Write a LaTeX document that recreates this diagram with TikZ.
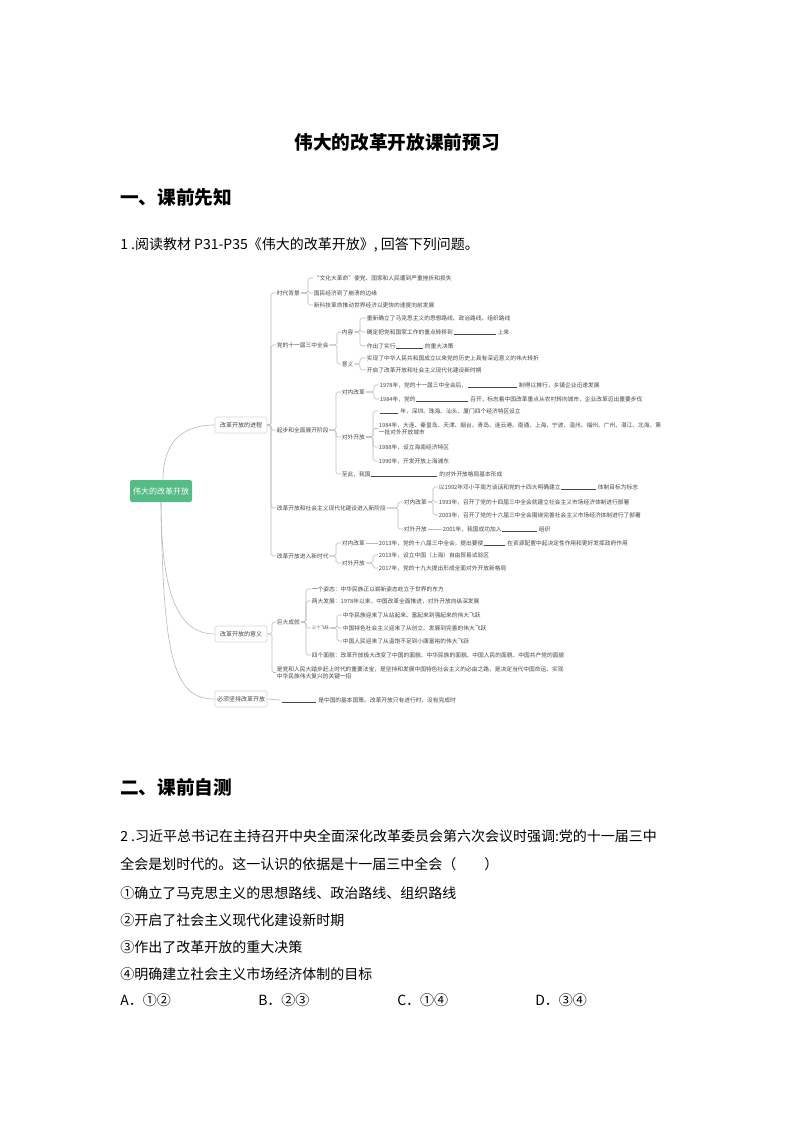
\documentclass[tikz,border=0pt]{standalone}
\usepackage{fontspec}
\setmainfont{Noto Sans CJK SC}
\definecolor{mmtext}{RGB}{70,70,70}
\definecolor{mmline}{RGB}{185,185,185}
\definecolor{mmgreen}{RGB}{84,188,132}
\definecolor{boxline}{RGB}{215,215,215}
\newcommand\blank[1]{\hspace{0.12em}\rule[-0.6pt]{#1}{0.3pt}\hspace{0.35em}}
\newcommand\mmfont{\fontsize{4.3pt}{5.25pt}\selectfont}
\begin{document}
\begin{tikzpicture}[x=0.75pt,y=-0.75pt,
 t/.style={anchor=west, inner xsep=0.5pt, inner ysep=0.6pt, font=\mmfont, text=mmtext},
 tl/.style={t, align=left},
 ln/.style={draw=mmline, line width=0.45pt, rounded corners=1.3pt},
 lvl/.style={draw=boxline, fill=white, rounded corners=1.5pt, line width=0.5pt, minimum width=39pt, minimum height=12pt, inner sep=1pt, font=\fontsize{4.5pt}{5pt}\selectfont, text=mmtext},
 rootbox/.style={fill=mmgreen, rounded corners=1.2pt, minimum width=46.5pt, minimum height=16.5pt, inner sep=1pt, text=white, font=\fontsize{6pt}{7pt}\selectfont},
 body/.style={anchor=west, inner sep=0pt, font=\fontsize{10.5pt}{12pt}\selectfont, text=black},
 head/.style={anchor=west, inner sep=0pt, font=\fontsize{14pt}{16pt}\selectfont\bfseries, text=black},
]
\useasboundingbox (0,0) rectangle (794,1123);
\fill[white] (0,0) rectangle (794,1123);

% ---------- header ----------
\node[inner sep=0pt, font=\fontsize{14pt}{16pt}\selectfont\bfseries] (title) at (397,142) {伟大的改革开放课前预习};
\node[head] (h1) at (120,197) {一、课前先知};
\node[body] (q1) at (120,245) {1 .阅读教材 P31-P35《伟大的改革开放》, 回答下列问题。};

% ---------- mind map ----------
\node[rootbox] (root) at (161,491) {伟大的改革开放};
\node[lvl] (p1) at (241,425) {改革开放的进程};
\node[lvl] (p2) at (241,634) {改革开放的意义};
\node[lvl] (p3) at (241,699) {必须坚持改革开放};

\draw[ln] ([xshift=1.5pt]root.north) .. controls +(0,-38) and +(-32,0) .. (p1.west);
\draw[ln] ([xshift=0pt]root.south) .. controls +(0,95) and +(-35,0) .. (p2.west);
\draw[ln] ([xshift=0pt]root.south) .. controls +(2,160) and +(-40,0) .. (p3.west);

% bracket x positions
\coordinate (b0) at (271,0);
\coordinate (b1) at (308,0);
\coordinate (b2) at (337,0);
\coordinate (b21) at (360,0);
\coordinate (b3) at (336,0);
\coordinate (b31) at (374,0);
\coordinate (b32) at (373,0);
\coordinate (b4) at (398,0);
\coordinate (b41) at (433,0);
\coordinate (b5) at (336,0);
\coordinate (b52) at (373,0);
\coordinate (c0) at (272,0);
\coordinate (c1) at (306,0);
\coordinate (c13) at (337,0);

% level 2 of 进程
\node[t] (n1) at (276,293) {时代背景};
\node[t] (n2) at (276,345) {党的十一届三中全会};
\node[t] (n3) at (276,430) {起步和全面展开阶段};
\node[t] (n4) at (276,508) {改革开放和社会主义现代化建设进入新阶段};
\node[t] (n5) at (276,556) {改革开放进入新时代};
\foreach \c in {n1,n2,n3,n4,n5} \draw[ln] (p1.east) -- (p1.east -| b0) |- (\c.west);

% 时代背景
\node[t] (n11) at (313,278) {“文化大革命”使党、国家和人民遭到严重挫折和损失};
\node[t] (n12) at (313,293) {国民经济到了崩溃的边缘};
\node[t] (n13) at (313,305) {新科技革命推动世界经济以更快的速度向前发展};
\foreach \c in {n11,n12,n13} \draw[ln] (n1.east) -- (n1.east -| b1) |- (\c.west);

% 党的十一届三中全会
\node[t] (n21) at (341,332) {内容};
\node[t] (n22) at (341,364) {意义};
\foreach \c in {n21,n22} \draw[ln] (n2.east) -- (n2.east -| b2) |- (\c.west);
\node[t] (n211) at (366,318) {重新确立了马克思主义的思想路线、政治路线、组织路线};
\node[t] (n212) at (366,332) {确定把党和国家工作的重点转移到\blank{31.5pt}上来};
\node[t] (n213) at (366,346) {作出了实行\blank{20pt}的重大决策};
\foreach \c in {n211,n212,n213} \draw[ln] (n21.east) -- (n21.east -| b21) |- (\c.west);
\node[t] (n221) at (366,358) {实现了中华人民共和国成立以来党的历史上具有深远意义的伟大转折};
\node[t] (n222) at (366,370) {开启了改革开放和社会主义现代化建设新时期};
\foreach \c in {n221,n222} \draw[ln] (n22.east) -- (n22.east -| b21) |- (\c.west);

% 起步和全面展开阶段
\node[t] (n31) at (341,392) {对内改革};
\node[t] (n32) at (341,437) {对外开放};
\node[t] (n33) at (341,474) {至此，我国\blank{49.5pt}的对外开放格局基本形成};
\foreach \c in {n31,n32,n33} \draw[ln] (n3.east) -- (n3.east -| b3) |- (\c.west);
\node[t] (n311) at (379,385) {1978年，党的十一届三中全会后，\blank{37pt}制得以推行，乡镇企业迅速发展};
\node[t] (n312) at (379,399) {1984年，党的\blank{39pt}召开，标志着中国改革重点从农村转向城市，企业改革迈出重要步伐};
\foreach \c in {n311,n312} \draw[ln] (n31.east) -- (n31.east -| b31) |- (\c.west);
\node[t] (n321) at (378,411) {\blank{14pt}年，深圳、珠海、汕头、厦门四个经济特区设立};
\node[tl] (n322) at (378,428.5) {1984年，大连、秦皇岛、天津、烟台、青岛、连云港、南通、上海、宁波、温州、福州、广州、湛江、北海，第\\一批对外开放城市};
\node[t] (n323) at (378,447) {1988年，设立海南经济特区};
\node[t] (n324) at (378,461) {1990年，开发开放上海浦东};
\foreach \c in {n321,n322,n323,n324} \draw[ln] (n32.east) -- (n32.east -| b32) |- (\c.west);

% 进入新阶段
\node[t] (n41) at (403,502) {对内改革};
\node[t] (n42) at (403,529) {对外开放};
\foreach \c in {n41,n42} \draw[ln] (n4.east) -- (n4.east -| b4) |- (\c.west);
\node[t] (n411) at (438,487) {以1992年邓小平南方谈话和党的十四大明确建立\blank{26pt}体制目标为标志};
\node[t] (n412) at (438,502) {1993年，召开了党的十四届三中全会就建立社会主义市场经济体制进行部署};
\node[t] (n413) at (438,515) {2003年，召开了党的十六届三中全会围绕完善社会主义市场经济体制进行了部署};
\foreach \c in {n411,n412,n413} \draw[ln] (n41.east) -- (n41.east -| b41) |- (\c.west);
\node[t] (n421) at (442,529) {2001年，我国成功加入\blank{26pt}组织};
\draw[ln] (n42.east) -- (n421.west);

% 进入新时代
\node[t] (n51) at (341,543) {对内改革};
\node[t] (n52) at (341,563) {对外开放};
\foreach \c in {n51,n52} \draw[ln] (n5.east) -- (n5.east -| b5) |- (\c.west);
\node[t] (n511) at (378,543) {2013年，党的十八届三中全会，提出要使\blank{16pt}在资源配置中起决定性作用和更好发挥政府作用};
\draw[ln] (n51.east) -- (n511.west);
\node[t] (n521) at (378,555) {2013年，设立中国（上海）自由贸易试验区};
\node[t] (n522) at (378,568) {2017年，党的十九大提出形成全面对外开放新格局};
\foreach \c in {n521,n522} \draw[ln] (n52.east) -- (n52.east -| b52) |- (\c.west);

% 改革开放的意义
\node[t] (m1) at (276,622) {巨大成就};
\node[tl] (m2) at (276,672.5) {是党和人民大踏步赶上时代的重要法宝，是坚持和发展中国特色社会主义的必由之路，是决定当代中国命运、实现\\中华民族伟大复兴的关键一招};
\foreach \c in {m1,m2} \draw[ln] (p2.east) -- (p2.east -| c0) |- (\c.west);
\node[t] (m11) at (311,589) {一个姿态：中华民族正以崭新姿态屹立于世界的东方};
\node[t] (m12) at (311,601) {两大发展：1978年以来，中国改革全面推进，对外开放向纵深发展};
\node[t, font=\fontsize{3.2pt}{4pt}\selectfont] (m13) at (311,628) {三个飞跃};
\node[t] (m14) at (311,655) {四个面貌：改革开放极大改变了中国的面貌、中华民族的面貌、中国人民的面貌、中国共产党的面貌};
\foreach \c in {m11,m12,m13,m14} \draw[ln] (m1.east) -- (m1.east -| c1) |- (\c.west);
\node[t] (m131) at (342,615) {中华民族迎来了从站起来、富起来到强起来的伟大飞跃};
\node[t] (m132) at (342,628) {中国特色社会主义迎来了从创立、发展到完善的伟大飞跃};
\node[t] (m133) at (342,641) {中国人民迎来了从温饱不足到小康富裕的伟大飞跃};
\foreach \c in {m131,m132,m133} \draw[ln] (m13.east) -- (m13.east -| c13) |- (\c.west);

% 必须坚持改革开放
\node[t] (k1) at (280,700) {\blank{26pt}是中国的基本国策。改革开放只有进行时，没有完成时};
\draw[ln] (p3.east) -- (k1.west);

% ---------- section 2 ----------
\node[head] (h2) at (120,787) {二、课前自测};
\node[body] (l1) at (120,836) {2 .习近平总书记在主持召开中央全面深化改革委员会第六次会议时强调:党的十一届三中};
\node[body] (l2) at (120,864) {全会是划时代的。这一认识的依据是十一届三中全会（\hspace{2em}）};
\node[body] (o1) at (120,893) {①确立了马克思主义的思想路线、政治路线、组织路线};
\node[body] (o2) at (120,920) {②开启了社会主义现代化建设新时期};
\node[body] (o3) at (120,947) {③作出了改革开放的重大决策};
\node[body] (o4) at (120,974) {④明确建立社会主义市场经济体制的目标};
\node[body] (ca) at (120,1000) {A．①②};
\node[body] (cb) at (258,1000) {B．②③};
\node[body] (cc) at (397,1000) {C．①④};
\node[body] (cd) at (535,1000) {D．③④};
\end{tikzpicture}
\end{document}
